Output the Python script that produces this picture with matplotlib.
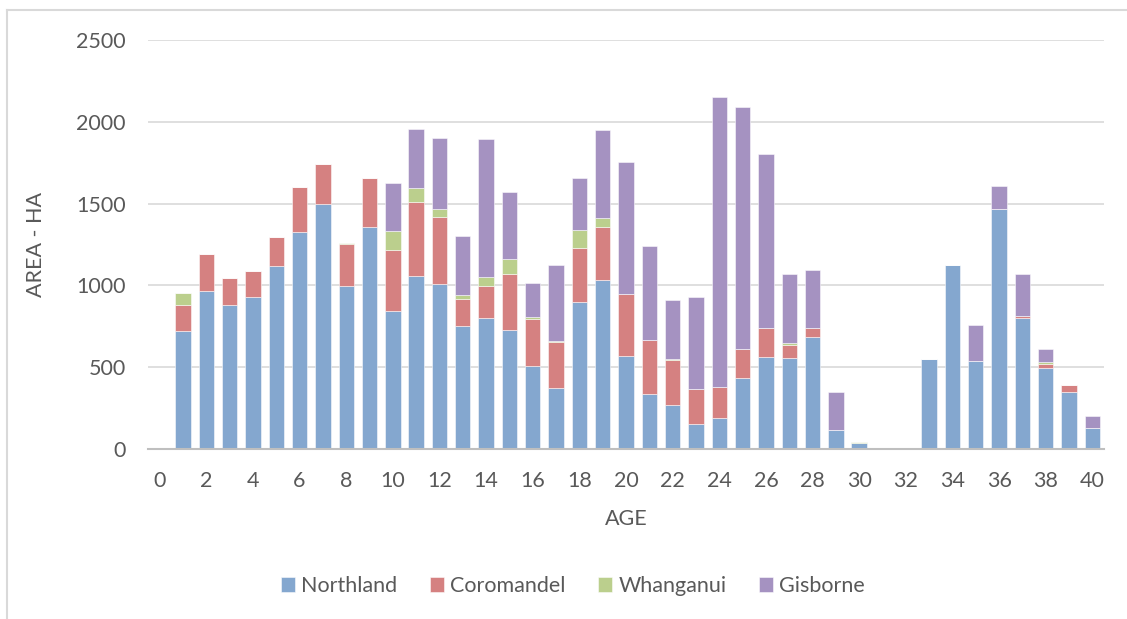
import matplotlib
matplotlib.use("Agg")
import matplotlib.pyplot as plt
import numpy as np

ages = list(range(0, 41))
northland = [0, 720, 965, 882, 929, 1116, 1329, 1500, 998, 1355, 841,
             1057, 1006, 753, 802, 729, 506, 373, 896, 1035, 571,
             337, 269, 151, 190, 435, 563, 559, 682, 116, 37,
             8, 0, 553, 1127, 539, 1469, 800, 498, 347, 131]
coromandel = [0, 160, 227, 165, 161, 178, 275, 241, 255, 300, 373,
              451, 410, 163, 194, 342, 288, 280, 331, 320, 378,
              330, 274, 216, 190, 177, 178, 76, 59, 0, 0,
              0, 0, 0, 0, 0, 0, 14, 20, 45, 0]
whanganui = [0, 75, 0, 0, 0, 0, 0, 0, 4, 0, 117,
             90, 51, 23, 53, 88, 10, 10, 110, 55, 0,
             0, 10, 0, 0, 0, 0, 10, 0, 0, 4,
             0, 0, 0, 0, 0, 0, 0, 11, 0, 0]
gisborne = [0, 0, 0, 0, 0, 0, 0, 0, 4, 0, 296,
            357, 435, 363, 845, 414, 208, 464, 318, 537, 806,
            574, 357, 560, 1769, 1478, 1063, 426, 355, 233, 0,
            0, 0, 0, 0, 220, 137, 253, 85, 0, 71]

series = [("Northland", northland, "#84A7CF"),
          ("Coromandel", coromandel, "#D58181"),
          ("Whanganui", whanganui, "#BBCF8D"),
          ("Gisborne", gisborne, "#A592C1")]

plt.rcParams['font.family'] = ['Lato', 'DejaVu Sans']
txt = "#595959"
fs = 15.5

fig = plt.figure(figsize=(11.27, 6.19), dpi=100)
ax = fig.add_axes([148/1127, 1-449/619, (1104-148)/1127, (449-40)/619])

bottom = np.zeros(len(ages))
for name, vals, col in series:
    v = np.array(vals, dtype=float)
    ax.bar(ages, v, width=0.66, bottom=bottom, color=col, label=name,
           edgecolor=(1, 1, 1, 0.6), linewidth=0.6, zorder=3)
    bottom += v

ax.set_xlim(-0.5, 40.5)
ax.set_ylim(0, 2500)
ax.set_yticks([0, 500, 1000, 1500, 2000, 2500])
ax.set_xticks(list(range(0, 41, 2)))
ax.grid(axis='y', color="#D9D9D9", linewidth=1.2, zorder=0)
for s in ['top', 'right', 'left']:
    ax.spines[s].set_visible(False)
ax.spines['bottom'].set_color("#BFBFBF")
ax.spines['bottom'].set_linewidth(1.5)
ax.spines['bottom'].set_zorder(4)
ax.tick_params(axis='both', length=0, labelsize=fs, colors=txt)
ax.tick_params(axis='y', pad=16)
ax.tick_params(axis='x', pad=16)
ax.set_xlabel("AGE", fontsize=fs, color=txt, labelpad=13)
ax.set_ylabel("AREA - HA", fontsize=fs, color=txt, labelpad=22)

fig.legend(loc='center', bbox_to_anchor=(573/1127, 1-586/619), ncol=4,
           frameon=False, fontsize=fs, labelcolor=txt, handlelength=0.65,
           handleheight=0.65, handletextpad=0.3, columnspacing=1.5)

# chart border
fig.add_artist(plt.Line2D([7/1127, 7/1127], [0, 1-10/619], transform=fig.transFigure,
                          color="#D9D9D9", linewidth=1.5))
fig.add_artist(plt.Line2D([7/1127, 1], [1-10/619, 1-10/619], transform=fig.transFigure,
                          color="#D9D9D9", linewidth=1.5))

fig.savefig("out.png", dpi=100)
